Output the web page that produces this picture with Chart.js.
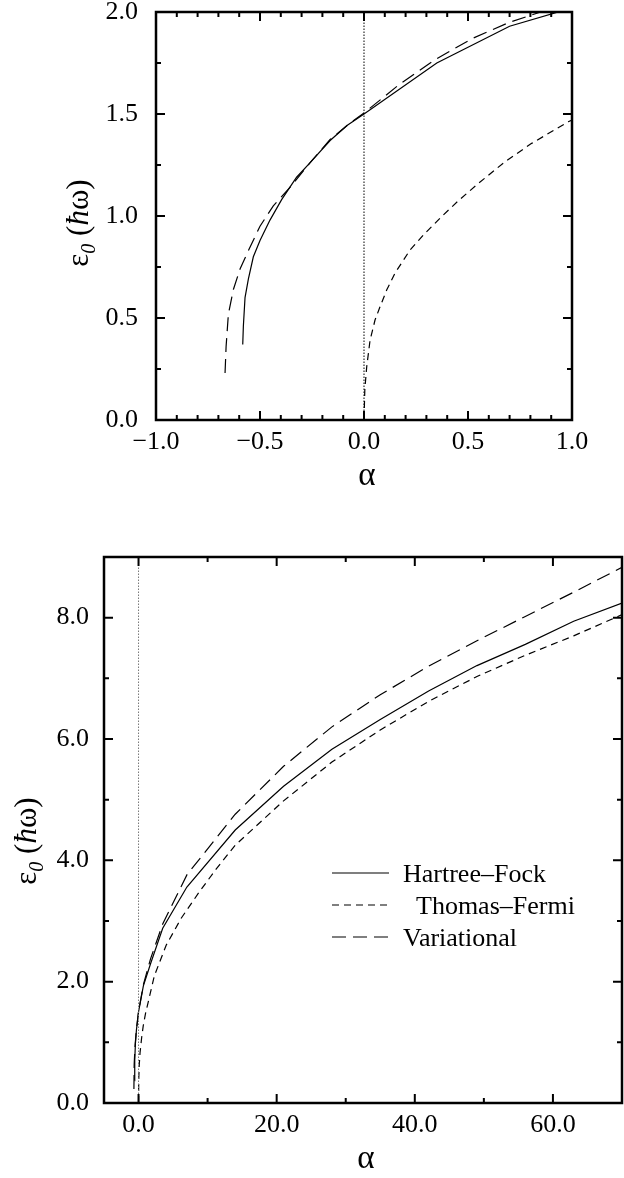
<!DOCTYPE html>
<html>
<head>
<meta charset="utf-8">
<title>epsilon_0 vs alpha</title>
<script src="https://cdn.jsdelivr.net/npm/chart.js@4/dist/chart.umd.min.js"></script>
<style>
  html, body { margin:0; padding:0; background:#fff; }
  #wrap { position:relative; width:624px; height:1178px; }
  .box { position:absolute; left:0; width:624px; }
  #topBox { top:0; height:510px; }
  #botBox { top:510px; height:668px; }
</style>
</head>
<body>
<div id="wrap">
  <div class="box" id="topBox"><canvas id="cTop"></canvas></div>
  <div class="box" id="botBox"><canvas id="cBot"></canvas></div>
</div>
<script>
// ── Top panel: small alpha, -1 .. 1 ──────────────────────────────────────
const topHfAlpha  = [-0.583, -0.58, -0.572, -0.556, -0.532, -0.5, -0.452, -0.396, -0.324, -0.26, -0.163, -0.08, 0, 0.35, 0.7, 1.0];
const topHfEps    = [0.37, 0.46, 0.60, 0.69, 0.80, 0.88, 0.98, 1.08, 1.19, 1.26, 1.37, 1.445, 1.5, 1.75, 1.93, 2.02];
const topTfAlpha  = [0, 0.004, 0.013, 0.029, 0.053, 0.077, 0.109, 0.149, 0.221, 0.293, 0.373, 0.454, 0.55, 0.678, 0.806, 0.982, 1.0];
const topTfEps    = [0, 0.15, 0.26, 0.39, 0.49, 0.555, 0.637, 0.72, 0.833, 0.915, 0.997, 1.075, 1.16, 1.266, 1.356, 1.462, 1.47];
const topVarAlpha = [-0.668, -0.663, -0.652, -0.628, -0.596, -0.556, -0.5, -0.436, -0.356, -0.26, -0.163, -0.08, 0, 0.17, 0.34, 0.52, 0.7, 0.85, 1.0];
const topVarEps   = [0.23, 0.36, 0.52, 0.64, 0.74, 0.83, 0.95, 1.05, 1.14, 1.26, 1.375, 1.445, 1.505, 1.645, 1.765, 1.87, 1.95, 2.0, 2.07];
const topXTicks = [-1, -0.5, 0, 0.5, 1];
const topXMinor = [-0.9, -0.8, -0.7, -0.6, -0.4, -0.3, -0.2, -0.1, 0.1, 0.2, 0.3, 0.4, 0.6, 0.7, 0.8, 0.9];
const topYTicks = [0, 0.5, 1, 1.5, 2];
const topYMinor = [0.25, 0.75, 1.25, 1.75];

// ── Bottom panel: large alpha, -5 .. 70 ──────────────────────────────────
const botHfAlpha  = [-0.58, -0.55, -0.45, -0.3, 0, 0.7, 1.75, 3.5, 7, 14, 21, 28, 35, 42, 49, 56, 63, 70];
const botHfEps    = [0.37, 0.7, 0.98, 1.21, 1.5, 1.93, 2.3, 2.88, 3.56, 4.5, 5.22, 5.83, 6.32, 6.79, 7.21, 7.56, 7.94, 8.24];
const botTfAlpha  = [0, 0.03, 0.1, 0.22, 0.45, 0.68, 1, 2.3, 4, 6.2, 8.8, 11.2, 14, 21, 28, 35, 42, 49, 56, 63, 70];
const botTfEps    = [0, 0.39, 0.62, 0.83, 1.075, 1.27, 1.47, 2.1, 2.6, 3.05, 3.48, 3.85, 4.25, 4.98, 5.62, 6.15, 6.62, 7.03, 7.38, 7.70, 8.05];
const botVarAlpha = [-0.67, -0.63, -0.5, -0.3, 0, 0.7, 1.75, 3.5, 7, 14, 21, 28, 35, 42, 49, 56, 63, 70];
const botVarEps   = [0.23, 0.64, 0.95, 1.22, 1.505, 1.95, 2.38, 2.95, 3.76, 4.76, 5.55, 6.2, 6.73, 7.2, 7.62, 8.02, 8.42, 8.83];
const botXTicks = [0, 20, 40, 60];
const botXMinor = [10, 30, 50];
const botYTicks = [0, 2, 4, 6, 8];
const botYMinor = [1, 3, 5, 7];

const zeroLineAlpha = [0, 0];

const SERIF = '"Liberation Serif", "Times New Roman", serif';
const pts = (xs, ys) => xs.map((x, i) => ({x, y: ys[i]}));
const fmt = v => (Math.abs(v) < 1e-9 ? 0 : v).toFixed(1).replace('-', '\u2212');

// ── Plugin: box frame + inward major/minor ticks on all four sides ───────
const framePlugin = {
  id: 'frame',
  afterDraw(chart, args, o) {
    const {ctx, chartArea: a, scales: {x, y}} = chart;
    ctx.save();
    ctx.strokeStyle = '#000';
    ctx.lineWidth = 2;
    const xt = (vals, len) => vals.forEach(v => {
      const p = x.getPixelForValue(v);
      ctx.beginPath();
      ctx.moveTo(p, a.bottom); ctx.lineTo(p, a.bottom - len);
      ctx.moveTo(p, a.top);    ctx.lineTo(p, a.top + len);
      ctx.stroke();
    });
    const yt = (vals, len) => vals.forEach(v => {
      const p = y.getPixelForValue(v);
      ctx.beginPath();
      ctx.moveTo(a.left, p);  ctx.lineTo(a.left + len, p);
      ctx.moveTo(a.right, p); ctx.lineTo(a.right - len, p);
      ctx.stroke();
    });
    xt(o.xMajor, 9); xt(o.xMinor, 5);
    yt(o.yMajor, 9); yt(o.yMinor, 5);
    ctx.lineWidth = 2.5;
    ctx.strokeRect(a.left, a.top, a.right - a.left, a.bottom - a.top);
    ctx.restore();
  }
};

// ── Plugin: axis titles (alpha below, rotated eps_0 (hbar omega) left) ──
const titlePlugin = {
  id: 'titles',
  afterDraw(chart, args, o) {
    const {ctx, chartArea: a} = chart;
    ctx.save();
    ctx.fillStyle = '#000';
    ctx.textAlign = 'center';
    ctx.textBaseline = 'alphabetic';
    ctx.font = `33px ${SERIF}`;
    ctx.fillText('\u03b1', (a.left + a.right) / 2 + 3, o.xBase);

    const s = o.ySize;
    const parts = [
      {t: '\u03b5',  f: `${s}px ${SERIF}`, dy: 0},
      {t: '0',       f: `italic ${Math.round(s * 0.65)}px ${SERIF}`, dy: s * 0.24},
      {t: ' (',      f: `${s}px ${SERIF}`, dy: 0},
      {t: '\u0127',  f: `italic ${s}px ${SERIF}`, dy: 0},
      {t: '\u03c9)', f: `${s}px ${SERIF}`, dy: 0}
    ];
    let total = 0;
    parts.forEach(p => { ctx.font = p.f; p.w = ctx.measureText(p.t).width; total += p.w; });
    ctx.translate(o.yBase, o.yMid);
    ctx.rotate(-Math.PI / 2);
    ctx.textAlign = 'left';
    let u = -total / 2;
    parts.forEach(p => { ctx.font = p.f; ctx.fillText(p.t, u, p.dy); u += p.w; });
    ctx.restore();
  }
};

// ── Plugin: legend box inside the plot ───────────────────────────────────
const keyPlugin = {
  id: 'key',
  afterDraw(chart, args, o) {
    if (!o.show) return;
    const {ctx} = chart;
    ctx.save();
    ctx.fillStyle = '#000';
    ctx.strokeStyle = '#000';
    ctx.font = `26px ${SERIF}`;
    ctx.textBaseline = 'alphabetic';
    ctx.textAlign = 'left';
    chart.data.datasets.filter(d => d.inKey).forEach((d, i) => {
      const yy = o.y + i * o.step;
      ctx.lineWidth = d.borderWidth;
      ctx.setLineDash(d.borderDash || []);
      ctx.beginPath();
      ctx.moveTo(o.x, yy); ctx.lineTo(o.x + o.len, yy);
      ctx.stroke();
      ctx.setLineDash([]);
      ctx.fillText(d.label, o.x + o.len + 14, yy + 8.5);
    });
    ctx.restore();
  }
};

function lineSet(label, xs, ys, dash, extra) {
  return Object.assign({
    label, data: pts(xs, ys), borderColor: '#000', borderWidth: 1.2,
    borderDash: dash, pointRadius: 0, fill: false, tension: 0, inKey: true
  }, extra || {});
}

function axis(min, max, tickVals, pad, size) {
  return {
    type: 'linear', min, max,
    afterBuildTicks: s => { s.ticks = tickVals.map(v => ({value: v})); },
    ticks: {callback: v => fmt(v), color: '#000', padding: pad, font: {family: SERIF, size: 26},
            autoSkip: false, maxRotation: 0},
    grid: {display: false, drawTicks: false},
    border: {display: false},
    afterFit: s => {
      if (s.isHorizontal()) s.height = size; else s.width = size;
      s.paddingTop = 0; s.paddingBottom = 0; s.paddingLeft = 0; s.paddingRight = 0;
    }
  };
}

function buildChart(id, cfg) {
  return new Chart(document.getElementById(id), {
    type: 'line',
    data: {datasets: cfg.datasets},
    options: {
      responsive: true, maintainAspectRatio: false, animation: false,
      layout: {padding: cfg.padding},
      scales: {x: cfg.x, y: cfg.y},
      plugins: {
        legend: {display: false}, tooltip: {enabled: false},
        frame: cfg.frame, titles: cfg.titles, key: cfg.key || {show: false}
      }
    },
    plugins: [framePlugin, titlePlugin, keyPlugin]
  });
}

// Top panel
buildChart('cTop', {
  datasets: [
    lineSet('zero', zeroLineAlpha, [0, 2], [1.5, 1.5], {borderWidth: 1, inKey: false}),
    lineSet('Hartree\u2013Fock', topHfAlpha, topHfEps, []),
    lineSet('  Thomas\u2013Fermi', topTfAlpha, topTfEps, [7, 5]),
    lineSet('Variational', topVarAlpha, topVarEps, [14, 7])
  ],
  padding: {left: 0, top: 12, right: 52, bottom: 0},
  x: axis(-1, 1, topXTicks, 7, 90),
  y: axis(0, 2, topYTicks, 18, 156),
  frame: {xMajor: topXTicks, xMinor: topXMinor, yMajor: topYTicks, yMinor: topYMinor},
  titles: {xBase: 485, yBase: 88, yMid: 223, ySize: 31}
});

// Bottom panel
buildChart('cBot', {
  datasets: [
    lineSet('zero', zeroLineAlpha, [0, 9], [1.5, 1.5], {borderWidth: 1, borderColor: '#777', inKey: false}),
    lineSet('Hartree\u2013Fock', botHfAlpha, botHfEps, []),
    lineSet('  Thomas\u2013Fermi', botTfAlpha, botTfEps, [7, 5]),
    lineSet('Variational', botVarAlpha, botVarEps, [14, 7])
  ],
  padding: {left: 0, top: 47, right: 2, bottom: 0},
  x: axis(-5, 70, botXTicks, 7, 75),
  y: axis(0, 9, botYTicks, 15, 104),
  frame: {xMajor: botXTicks, xMinor: botXMinor, yMajor: botYTicks, yMinor: botYMinor},
  titles: {xBase: 658, yBase: 36, yMid: 331, ySize: 31},
  key: {show: true, x: 332, y: 363, step: 32, len: 57}
});
</script>
</body>
</html>
